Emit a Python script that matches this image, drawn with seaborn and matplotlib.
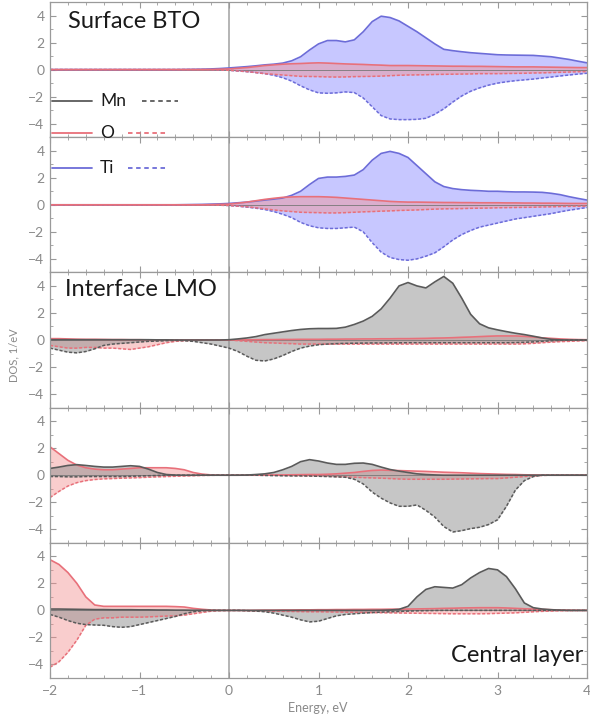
import numpy as np
import pandas as pd
import seaborn as sns
import matplotlib.pyplot as plt
from matplotlib.lines import Line2D
from matplotlib.ticker import MultipleLocator

# energy grid, eV (-2.0 .. 4.0, step 0.1); each row of the series below covers 1 eV
energy = [round(-2.0 + 0.1 * i, 1) for i in range(61)]

# panel 1 - Surface BTO
p1_ti_up = [0, 0, 0, 0, 0, 0, 0, 0, 0, 0,
            0, 0, 0, 0, 0, 0.01, 0.02, 0.03, 0.05, 0.08,
            0.12, 0.17, 0.22, 0.28, 0.35, 0.4, 0.48, 0.65, 0.95, 1.45,
            1.9, 2.15, 2.15, 2.05, 2.2, 2.8, 3.55, 3.95, 3.85, 3.6,
            3.2, 2.8, 2.35, 1.9, 1.5, 1.4, 1.32, 1.25, 1.2, 1.15,
            1.1, 1.08, 1.07, 1.06, 1.05, 1.0, 0.95, 0.85, 0.75, 0.62,
            0.5]
p1_ti_dn = [0, 0, 0, 0, 0, 0, 0, 0, 0, 0,
            0, 0, 0, 0, 0, 0, 0, 0, -0.01, -0.03,
            -0.05, -0.1, -0.15, -0.22, -0.3, -0.42, -0.6, -0.85, -1.2, -1.5,
            -1.72, -1.75, -1.72, -1.65, -1.7, -2.1, -2.75, -3.4, -3.65, -3.7,
            -3.7, -3.68, -3.6, -3.3, -2.9, -2.4, -1.95, -1.6, -1.35, -1.15,
            -1.0, -0.9, -0.82, -0.76, -0.7, -0.62, -0.55, -0.47, -0.4, -0.33,
            -0.27]
p1_o_up = [0, 0, 0, 0, 0, 0, 0, 0, 0, 0,
           0, 0, 0, 0, 0, 0, 0, 0, 0.01, 0.03,
           0.05, 0.1, 0.15, 0.22, 0.3, 0.35, 0.4, 0.43, 0.45, 0.48,
           0.5, 0.48, 0.45, 0.42, 0.4, 0.38, 0.35, 0.33, 0.3, 0.3,
           0.3, 0.29, 0.28, 0.27, 0.26, 0.25, 0.25, 0.24, 0.24, 0.23,
           0.22, 0.21, 0.2, 0.2, 0.2, 0.19, 0.18, 0.17, 0.16, 0.15,
           0.15]
p1_o_dn = [0, 0, 0, 0, 0, 0, 0, 0, 0, 0,
           0, 0, 0, 0, 0, 0, 0, 0, -0.01, -0.03,
           -0.05, -0.1, -0.15, -0.22, -0.3, -0.35, -0.4, -0.45, -0.5, -0.51,
           -0.52, -0.54, -0.55, -0.54, -0.52, -0.51, -0.5, -0.48, -0.45, -0.42,
           -0.4, -0.39, -0.38, -0.36, -0.35, -0.34, -0.33, -0.32, -0.3, -0.3,
           -0.3, -0.29, -0.28, -0.27, -0.25, -0.24, -0.22, -0.2, -0.18, -0.16,
           -0.15]

# panel 2 - BTO second layer
p2_ti_up = [0, 0, 0, 0, 0, 0, 0, 0, 0, 0,
            0, 0, 0, 0, 0, 0.01, 0.02, 0.03, 0.05, 0.07,
            0.1, 0.15, 0.2, 0.27, 0.35, 0.42, 0.5, 0.7, 1.0, 1.5,
            1.95, 2.05, 2.05, 2.1, 2.2, 2.6, 3.3, 3.8, 3.95, 3.8,
            3.5, 2.9, 2.3, 1.7, 1.35, 1.2, 1.12, 1.07, 1.04, 1.0,
            1.0, 0.97, 0.95, 0.95, 0.94, 0.92, 0.85, 0.75, 0.6, 0.47,
            0.35]
p2_ti_dn = [0, 0, 0, 0, 0, 0, 0, 0, 0, 0,
            0, 0, 0, 0, 0, 0, 0, 0, -0.01, -0.03,
            -0.05, -0.1, -0.17, -0.25, -0.35, -0.5, -0.7, -0.95, -1.3, -1.55,
            -1.7, -1.75, -1.75, -1.7, -1.65, -2.0, -2.8, -3.5, -3.9, -4.05,
            -4.1, -4.0, -3.8, -3.55, -3.1, -2.6, -2.2, -1.9, -1.65, -1.5,
            -1.35, -1.2, -1.05, -0.95, -0.85, -0.75, -0.65, -0.52, -0.4, -0.3,
            -0.2]
p2_o_up = [0, 0, 0, 0, 0, 0, 0, 0, 0, 0,
           0, 0, 0, 0, 0, 0, 0, 0, 0.01, 0.03,
           0.05, 0.12, 0.2, 0.3, 0.4, 0.48, 0.55, 0.58, 0.6, 0.6,
           0.6, 0.58, 0.55, 0.5, 0.45, 0.4, 0.35, 0.3, 0.25, 0.22,
           0.2, 0.2, 0.19, 0.18, 0.17, 0.17, 0.16, 0.16, 0.15, 0.15,
           0.15, 0.14, 0.14, 0.13, 0.13, 0.12, 0.12, 0.11, 0.1, 0.1,
           0.1]
p2_o_dn = [0, 0, 0, 0, 0, 0, 0, 0, 0, 0,
           0, 0, 0, 0, 0, 0, 0, 0, -0.01, -0.03,
           -0.05, -0.1, -0.15, -0.22, -0.3, -0.38, -0.45, -0.5, -0.55, -0.57,
           -0.58, -0.6, -0.6, -0.58, -0.55, -0.52, -0.5, -0.47, -0.45, -0.42,
           -0.4, -0.38, -0.35, -0.32, -0.3, -0.29, -0.28, -0.26, -0.25, -0.24,
           -0.22, -0.21, -0.2, -0.19, -0.18, -0.16, -0.15, -0.13, -0.12, -0.11,
           -0.1]

# panel 3 - Interface LMO
p3_mn_up = [0.02, 0.02, 0.02, 0.02, 0.02, 0.02, 0.02, 0.02, 0.02, 0.02,
            0.02, 0.02, 0.01, 0.01, 0, 0, 0, 0, 0, 0,
            0.02, 0.08, 0.15, 0.25, 0.4, 0.5, 0.6, 0.7, 0.78, 0.83,
            0.85, 0.85, 0.86, 0.95, 1.15, 1.4, 1.75, 2.3, 3.1, 4.0,
            4.25, 4.0, 3.85, 4.3, 4.7, 4.2, 3.1, 1.9, 1.2, 0.9,
            0.75, 0.62, 0.5, 0.4, 0.28, 0.15, 0.05, 0.01, 0, 0,
            0]
p3_mn_dn = [-0.6, -0.75, -0.9, -0.95, -0.85, -0.65, -0.4, -0.3, -0.25, -0.2,
            -0.15, -0.1, -0.08, -0.05, -0.03, -0.05, -0.1, -0.2, -0.3, -0.45,
            -0.6, -0.85, -1.2, -1.5, -1.55, -1.4, -1.15, -0.85, -0.6, -0.45,
            -0.35, -0.3, -0.27, -0.25, -0.24, -0.23, -0.22, -0.22, -0.21, -0.21,
            -0.2, -0.2, -0.2, -0.2, -0.2, -0.2, -0.2, -0.2, -0.2, -0.2,
            -0.2, -0.2, -0.19, -0.17, -0.14, -0.1, -0.06, -0.03, -0.01, 0,
            0]
p3_o_up = [0.1, 0.1, 0.08, 0.06, 0.05, 0.05, 0.04, 0.03, 0.03, 0.02,
           0.02, 0.01, 0.01, 0, 0, 0, 0, 0, 0, 0,
           0, 0, 0.01, 0.02, 0.03, 0.03, 0.04, 0.04, 0.05, 0.05,
           0.05, 0.06, 0.06, 0.07, 0.07, 0.08, 0.08, 0.09, 0.09, 0.1,
           0.1, 0.11, 0.12, 0.14, 0.15, 0.17, 0.2, 0.22, 0.25, 0.28,
           0.3, 0.3, 0.3, 0.27, 0.22, 0.16, 0.12, 0.08, 0.05, 0.03,
           0.02]
p3_o_dn = [-0.4, -0.5, -0.6, -0.6, -0.55, -0.55, -0.6, -0.6, -0.65, -0.7,
           -0.6, -0.5, -0.35, -0.2, -0.1, -0.05, -0.02, 0, 0, 0,
           0, -0.05, -0.1, -0.15, -0.2, -0.22, -0.25, -0.27, -0.3, -0.3,
           -0.3, -0.3, -0.3, -0.3, -0.3, -0.3, -0.3, -0.3, -0.3, -0.3,
           -0.3, -0.3, -0.3, -0.3, -0.3, -0.3, -0.3, -0.3, -0.3, -0.3,
           -0.3, -0.3, -0.3, -0.28, -0.25, -0.2, -0.16, -0.12, -0.1, -0.07,
           -0.05]

# panel 4 - LMO second layer
p4_mn_up = [0.5, 0.6, 0.72, 0.78, 0.72, 0.65, 0.6, 0.6, 0.65, 0.7,
            0.65, 0.45, 0.2, 0.05, 0.01, 0, 0, 0, 0, 0,
            0, 0, 0.01, 0.05, 0.1, 0.2, 0.4, 0.65, 1.0, 1.15,
            1.05, 0.9, 0.8, 0.8, 0.88, 0.9, 0.8, 0.6, 0.42, 0.3,
            0.2, 0.1, 0.05, 0.02, 0, 0, 0, 0, 0, 0,
            0, 0, 0, 0, 0, 0, 0, 0, 0, 0,
            0]
p4_mn_dn = [-0.1, -0.1, -0.12, -0.12, -0.1, -0.1, -0.1, -0.1, -0.1, -0.08,
            -0.06, -0.04, -0.02, 0, 0, 0, 0, 0, 0, 0,
            0, 0, 0, 0, -0.02, -0.03, -0.04, -0.05, -0.05, -0.06,
            -0.08, -0.1, -0.12, -0.15, -0.3, -0.65, -1.25, -1.7, -2.05, -2.3,
            -2.3, -2.2, -2.6, -3.1, -3.8, -4.2, -4.1, -3.95, -3.85, -3.65,
            -3.3, -2.3, -1.1, -0.4, -0.1, 0, 0, 0, 0, 0,
            0]
p4_o_up = [2.1, 1.6, 1.1, 0.75, 0.55, 0.45, 0.4, 0.4, 0.45, 0.5,
           0.55, 0.55, 0.55, 0.55, 0.5, 0.4, 0.2, 0.08, 0.02, 0,
           0, 0, 0, 0, 0, 0.01, 0.02, 0.03, 0.04, 0.05,
           0.05, 0.07, 0.1, 0.15, 0.2, 0.28, 0.35, 0.38, 0.36, 0.34,
           0.32, 0.3, 0.28, 0.25, 0.22, 0.2, 0.18, 0.15, 0.12, 0.1,
           0.08, 0.06, 0.05, 0.03, 0.02, 0.01, 0, 0, 0, 0,
           0]
p4_o_dn = [-1.65, -1.2, -0.8, -0.55, -0.4, -0.32, -0.27, -0.25, -0.22, -0.2,
           -0.18, -0.15, -0.12, -0.1, -0.08, -0.06, -0.04, -0.02, -0.01, 0,
           0, 0, 0, 0, 0, 0, -0.01, -0.02, -0.03, -0.04,
           -0.05, -0.07, -0.1, -0.12, -0.15, -0.18, -0.2, -0.22, -0.25, -0.28,
           -0.3, -0.3, -0.3, -0.3, -0.3, -0.29, -0.28, -0.27, -0.26, -0.25,
           -0.25, -0.2, -0.15, -0.1, -0.05, -0.02, 0, 0, 0, 0,
           0]

# panel 5 - Central layer
p5_mn_up = [0.1, 0.1, 0.09, 0.08, 0.07, 0.06, 0.06, 0.05, 0.05, 0.05,
            0.04, 0.04, 0.03, 0.03, 0.02, 0.02, 0.01, 0.01, 0, 0,
            0, 0, 0, 0, 0, 0, 0, 0, 0, 0,
            0, 0, 0, 0, 0, 0, 0, 0.01, 0.03, 0.08,
            0.3, 1.0, 1.55, 1.75, 1.7, 1.65, 1.9, 2.4, 2.8, 3.1,
            3.0, 2.5, 1.6, 0.55, 0.2, 0.1, 0.05, 0.02, 0, 0,
            0]
p5_mn_dn = [-0.3, -0.5, -0.75, -0.95, -1.05, -1.08, -1.1, -1.2, -1.25, -1.2,
            -1.05, -0.9, -0.75, -0.6, -0.45, -0.25, -0.1, -0.03, 0, 0,
            0, 0, -0.02, -0.05, -0.1, -0.2, -0.35, -0.5, -0.7, -0.85,
            -0.8, -0.6, -0.4, -0.3, -0.25, -0.2, -0.16, -0.13, -0.1, -0.08,
            -0.05, -0.03, -0.02, -0.01, 0, 0, 0, 0, 0, 0,
            0, 0, 0, 0, 0, 0, 0, 0, 0, 0,
            0]
p5_o_up = [3.75, 3.4, 2.8, 2.0, 1.0, 0.4, 0.3, 0.3, 0.3, 0.3,
           0.3, 0.3, 0.3, 0.3, 0.28, 0.25, 0.15, 0.08, 0.03, 0.01,
           0, 0, 0, 0.01, 0.02, 0.02, 0.03, 0.03, 0.04, 0.04,
           0.05, 0.05, 0.06, 0.06, 0.07, 0.07, 0.08, 0.08, 0.09, 0.09,
           0.1, 0.11, 0.12, 0.13, 0.15, 0.16, 0.18, 0.19, 0.2, 0.2,
           0.2, 0.18, 0.15, 0.12, 0.1, 0.07, 0.05, 0.03, 0.02, 0.01,
           0]
p5_o_dn = [-4.2, -3.8, -3.1, -2.2, -1.1, -0.65, -0.55, -0.55, -0.5, -0.5,
           -0.5, -0.48, -0.45, -0.42, -0.4, -0.35, -0.25, -0.15, -0.06, -0.02,
           0, 0, -0.02, -0.04, -0.05, -0.06, -0.07, -0.08, -0.09, -0.1,
           -0.1, -0.11, -0.12, -0.13, -0.14, -0.15, -0.16, -0.17, -0.18, -0.19,
           -0.2, -0.21, -0.22, -0.23, -0.24, -0.25, -0.25, -0.25, -0.25, -0.24,
           -0.22, -0.2, -0.18, -0.14, -0.1, -0.07, -0.05, -0.03, -0.02, -0.01,
           0]

panels = [
    {"Ti": (p1_ti_up, p1_ti_dn), "O": (p1_o_up, p1_o_dn)},
    {"Ti": (p2_ti_up, p2_ti_dn), "O": (p2_o_up, p2_o_dn)},
    {"O": (p3_o_up, p3_o_dn), "Mn": (p3_mn_up, p3_mn_dn)},
    {"O": (p4_o_up, p4_o_dn), "Mn": (p4_mn_up, p4_mn_dn)},
    {"O": (p5_o_up, p5_o_dn), "Mn": (p5_mn_up, p5_mn_dn)},
]

line_col = {"Mn": "#5a5a5a", "O": "#e8707a", "Ti": "#6c6cd8"}
fill_col = {"Mn": "#8f8f8f", "O": "#f39090", "Ti": "#9090ff"}
fill_alpha = {"Mn": 0.5, "O": 0.45, "Ti": 0.5}
dash = (0, (2.0, 1.2))

sns.set_theme(style="white")
plt.rcParams["font.family"] = ["Lato", "DejaVu Sans"]

W, H = 590, 722
fig, axes = plt.subplots(5, 1, figsize=(W / 100, H / 100), dpi=100, sharex=True)
fig.subplots_adjust(left=50 / W, right=587 / W, top=1 - 2 / H, bottom=1 - 678 / H, hspace=0)

for ax, pan in zip(axes, panels):
    ax.axvline(0, color="#a8a8a8", lw=1.2, zorder=0)
    for el in ["Ti", "O", "Mn"]:
        if el not in pan:
            continue
        up, dn = pan[el]
        df = pd.DataFrame({"E": energy, "up": up, "dn": dn})
        ax.fill_between(df["E"], 0, df["up"], color=fill_col[el], alpha=fill_alpha[el], lw=0)
        ax.fill_between(df["E"], 0, df["dn"], color=fill_col[el], alpha=fill_alpha[el], lw=0)
        sns.lineplot(data=df, x="E", y="up", ax=ax, color=line_col[el], lw=1.2, legend=False)
        sns.lineplot(data=df, x="E", y="dn", ax=ax, color=line_col[el], lw=1.1,
                     linestyle=dash, legend=False)
    ax.axhline(0, color="#777777", lw=0.6, zorder=1)
    ax.set_xlim(-2, 4)
    ax.set_ylim(-5, 5)
    ax.set_xlabel("")
    ax.set_ylabel("")
    ax.set_yticks([-4, -2, 0, 2, 4])
    ax.yaxis.set_minor_locator(MultipleLocator(1))
    ax.xaxis.set_major_locator(MultipleLocator(1))
    ax.xaxis.set_minor_locator(MultipleLocator(0.2))
    ax.tick_params(which="both", direction="in", top=True, right=True, bottom=True, left=True,
                   color="#999999", labelcolor="#8a8a8a", labelsize=10, pad=4)
    ax.tick_params(which="major", length=4, width=0.8)
    ax.tick_params(which="minor", length=2.5, width=0.6)
    for s in ax.spines.values():
        s.set_color("#9a9a9a")
        s.set_linewidth(0.9)

axes[-1].set_xticks([-2, -1, 0, 1, 2, 3, 4])
axes[-1].tick_params(axis="x", labelsize=10, pad=5)

# panel titles
axes[0].text(68 / W, 1 - 22 / H, "Surface BTO", transform=fig.transFigure,
             fontsize=17, color="#1a1a1a", va="center", ha="left")
axes[2].text(65 / W, 1 - 290 / H, "Interface LMO", transform=fig.transFigure,
             fontsize=17, color="#1a1a1a", va="center", ha="left")
axes[4].text(583 / W, 1 - 656 / H, "Central layer", transform=fig.transFigure,
             fontsize=17, color="#1a1a1a", va="center", ha="right")

# legend (solid = spin up, dashed = spin down)
legend_rows = [("Mn", 101, 142, 178), ("O", 133, 128, 167), ("Ti", 168, 128, 167)]
for name, yy, d0, d1 in legend_rows:
    yf = 1 - yy / H
    fig.add_artist(Line2D([52 / W, 92 / W], [yf, yf], color=line_col[name], lw=1.3,
                          transform=fig.transFigure))
    fig.add_artist(Line2D([d0 / W, d1 / W], [yf, yf], color=line_col[name], lw=1.3,
                          linestyle=(0, (2.5, 2.0)), transform=fig.transFigure))
    fig.text(100 / W, yf, name, fontsize=12.5, color="#1a1a1a", va="center", ha="left")

fig.text(14 / W, 1 - 355 / H, "DOS, 1/eV", rotation=90, fontsize=8, color="#8a8a8a",
         va="center", ha="center")
fig.text(318 / W, 1 - 708 / H, "Energy, eV", fontsize=9, color="#8a8a8a",
         va="center", ha="center")

fig.savefig("out.png", dpi=100)
